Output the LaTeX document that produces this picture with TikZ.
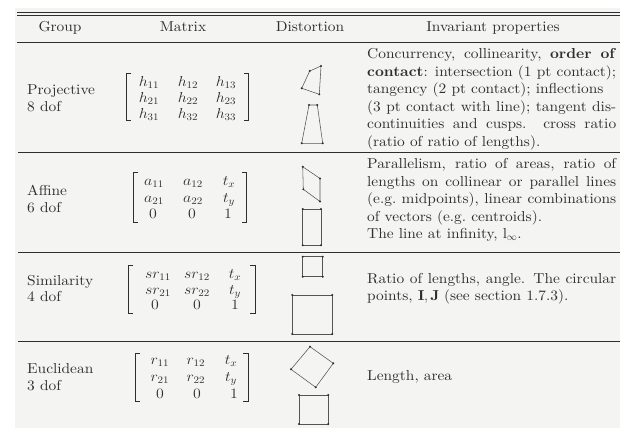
\documentclass[tikz,border=0pt]{standalone}
\usepackage{fontspec}
\setmainfont{lmroman10-regular.otf}[BoldFont=lmroman10-bold.otf, ItalicFont=lmroman10-italic.otf, FakeStretch=1.07]
\definecolor{ink}{HTML}{2E2E2E}
\definecolor{paper}{HTML}{F4F4F3}
\definecolor{wire}{HTML}{555555}
\tikzset{
  txt/.style={font=\fontsize{14.4}{17.5}\selectfont, inner sep=0pt, text=ink},
  ent/.style={txt, anchor=base},
  lab/.style={txt, anchor=base west},
  hrule/.style={draw=ink, line width=0.9pt},
  brk/.style={draw=ink, line width=0.6pt},
  quad/.style={draw=wire, line width=0.55pt},
  dot/.style={fill=ink}
}
\newcommand{\jline}[1]{\hbox to 249pt{#1}}
% matrix entry, widened a little to suit the text face
\newcommand{\me}[1]{\scalebox{1.1}[1]{$#1$}}
% left and right square brackets: x-left, x-right, top, bottom
\newcommand{\bracketpair}[4]{%
  \draw[brk] (#1+5,#3) -- (#1,#3) -- (#1,#4) -- (#1+5,#4);
  \draw[brk] (#2-5,#3) -- (#2,#3) -- (#2,#4) -- (#2-5,#4);}
% quadrilateral through four named corners, with a dot on each corner
\newcommand{\quadshape}[4]{%
  \draw[quad] (#1) -- (#2) -- (#3) -- (#4) -- cycle;
  \foreach \c in {#1,#2,#3,#4} \fill[dot] (\c) circle (1.1pt);}
\begin{document}
\begin{tikzpicture}[x=1pt,y=-1pt]
\useasboundingbox (0,0) rectangle (620,428);
\fill[white] (0,0) rectangle (620,428);
\fill[paper] (15,8) rectangle (620,428);

% rules
\draw[hrule] (17,12.4) -- (620,12.4);
\draw[hrule] (17,15.6) -- (620,15.6);
\draw[hrule] (17,42.7) -- (620,42.7);
\draw[hrule, line width=0.8pt] (18,152.5) -- (620,152.5);
\draw[hrule, line width=0.8pt] (18,252.5) -- (620,252.5);
\draw[hrule, line width=0.8pt] (18,341.5) -- (620,341.5);

% header
\node[ent] (hGroup) at (60,32) {Group};
\node[ent] (hMatrix) at (183,32) {Matrix};
\node[ent] (hDist) at (310,32) {Distortion};
\node[ent] (hInv) at (493,32) {Invariant properties};

% group names
\node[lab] (gP1) at (27,94) {Projective};
\node[lab] (gP2) at (27,111.5) {8 dof};
\node[lab] (gA1) at (27,195) {Affine};
\node[lab] (gA2) at (27,212.5) {6 dof};
\node[lab] (gS1) at (27,285) {Similarity};
\node[lab] (gS2) at (27,301.5) {4 dof};
\node[lab] (gE1) at (27,373) {Euclidean};
\node[lab] (gE2) at (27,390.5) {3 dof};

% projective matrix
\bracketpair{126}{248.5}{73.3}{120.5}
\node[ent] (p11) at (149,86) {\me{h_{11}}};
\node[ent] (p12) at (188,86) {\me{h_{12}}};
\node[ent] (p13) at (226,86) {\me{h_{13}}};
\node[ent] (p21) at (149,102.3) {\me{h_{21}}};
\node[ent] (p22) at (188,102.3) {\me{h_{22}}};
\node[ent] (p23) at (226,102.3) {\me{h_{23}}};
\node[ent] (p31) at (149,118) {\me{h_{31}}};
\node[ent] (p32) at (188,118) {\me{h_{32}}};
\node[ent] (p33) at (226,118) {\me{h_{33}}};

% affine matrix
\bracketpair{133.3}{246.7}{172.5}{222}
\node[ent] (a11) at (154,185.5) {\me{a_{11}}};
\node[ent] (a12) at (193,185.5) {\me{a_{12}}};
\node[ent] (a13) at (229,185.5) {\me{t_x}};
\node[ent] (a21) at (154,202) {\me{a_{21}}};
\node[ent] (a22) at (193,202) {\me{a_{22}}};
\node[ent] (a23) at (229,202) {\me{t_y}};
\node[ent] (a31) at (153,218.5) {\me{0}};
\node[ent] (a32) at (192,218.5) {\me{0}};
\node[ent] (a33) at (228,218.5) {\me{1}};

% similarity matrix
\bracketpair{128.3}{255}{265}{313}
\node[ent] (s11) at (158,278.5) {\me{sr_{11}}};
\node[ent] (s12) at (197,278.5) {\me{sr_{12}}};
\node[ent] (s13) at (235,278.5) {\me{t_x}};
\node[ent] (s21) at (158,294) {\me{sr_{21}}};
\node[ent] (s22) at (197,294) {\me{sr_{22}}};
\node[ent] (s23) at (235,294) {\me{t_y}};
\node[ent] (s31) at (155,309.5) {\me{0}};
\node[ent] (s32) at (197,309.5) {\me{0}};
\node[ent] (s33) at (235,309.5) {\me{1}};

% euclidean matrix
\bracketpair{135}{248}{353}{401}
\node[ent] (e11) at (160,364) {\me{r_{11}}};
\node[ent] (e12) at (196,364) {\me{r_{12}}};
\node[ent] (e13) at (231,364) {\me{t_x}};
\node[ent] (e21) at (160,381) {\me{r_{21}}};
\node[ent] (e22) at (196,381) {\me{r_{22}}};
\node[ent] (e23) at (231,381) {\me{t_y}};
\node[ent] (e31) at (160,398) {\me{0}};
\node[ent] (e32) at (197,398) {\me{0}};
\node[ent] (e33) at (234,398) {\me{1}};

% distortions: projective
\coordinate (pa1) at (309.7,71);   \coordinate (pa2) at (321,66);
\coordinate (pa3) at (319.3,94.3); \coordinate (pa4) at (301.7,88.3);
\quadshape{pa1}{pa2}{pa3}{pa4}
\coordinate (pb1) at (309,105);    \coordinate (pb2) at (317.3,105);
\coordinate (pb3) at (322.7,143.3);\coordinate (pb4) at (301.7,143.3);
\quadshape{pb1}{pb2}{pb3}{pb4}

% distortions: affine
\coordinate (aa1) at (302.7,166.7); \coordinate (aa2) at (320,178.5);
\coordinate (aa3) at (320,201.5);   \coordinate (aa4) at (303.3,189.3);
\quadshape{aa1}{aa2}{aa3}{aa4}
\coordinate (ab1) at (302.7,209);   \coordinate (ab2) at (321,209);
\coordinate (ab3) at (321,245.3);   \coordinate (ab4) at (302.7,245.3);
\quadshape{ab1}{ab2}{ab3}{ab4}

% distortions: similarity
\coordinate (sa1) at (302.7,256.7); \coordinate (sa2) at (322.7,256.7);
\coordinate (sa3) at (322.7,276.7); \coordinate (sa4) at (302.7,276.7);
\quadshape{sa1}{sa2}{sa3}{sa4}
\coordinate (sb1) at (292.3,295);   \coordinate (sb2) at (332.3,295);
\coordinate (sb3) at (332.3,334);   \coordinate (sb4) at (292.3,334);
\quadshape{sb1}{sb2}{sb3}{sb4}

% distortions: euclidean
\coordinate (ea1) at (310,346.7);   \coordinate (ea2) at (333.3,363.3);
\coordinate (ea3) at (315.7,387.3); \coordinate (ea4) at (291,369.3);
\quadshape{ea1}{ea2}{ea3}{ea4}
\coordinate (eb1) at (299,395);     \coordinate (eb2) at (328.3,395);
\coordinate (eb3) at (328.3,424);   \coordinate (eb4) at (299,424);
\quadshape{eb1}{eb2}{eb3}{eb4}

% invariant properties
\node[lab] (tP1) at (367,58.5)  {\jline{Concurrency, collinearity, \textbf{order of}}};
\node[lab] (tP2) at (367,76)    {\jline{\textbf{contact}: intersection (1 pt contact);}};
\node[lab] (tP3) at (367,93.5)  {tangency (2 pt contact); inflections};
\node[lab] (tP4) at (367,111)   {\jline{(3 pt contact with line); tangent dis-}};
\node[lab] (tP5) at (367,128.5) {\jline{continuities and cusps. cross ratio}};
\node[lab] (tP6) at (367,146)   {(ratio of ratio of lengths).};

\node[lab] (tA1) at (367,168.5) {\jline{Parallelism, ratio of areas, ratio of}};
\node[lab] (tA2) at (367,186)   {\jline{lengths on collinear or parallel lines}};
\node[lab] (tA3) at (367,203.5) {\jline{(e.g.\ midpoints), linear combinations}};
\node[lab] (tA4) at (367,221)   {of vectors (e.g.\ centroids).};
\node[lab] (tA5) at (367,238.5) {The line at infinity, $\mathrm{l}_\infty$.};

\node[lab] (tS1) at (367,283.5) {\jline{Ratio of lengths, angle. The circular}};
\node[lab] (tS2) at (367,300)   {points, $\mathbf{I},\mathbf{J}$ (see section 1.7.3).};

\node[lab] (tE1) at (367,380.5) {Length, area};
\end{tikzpicture}
\end{document}
